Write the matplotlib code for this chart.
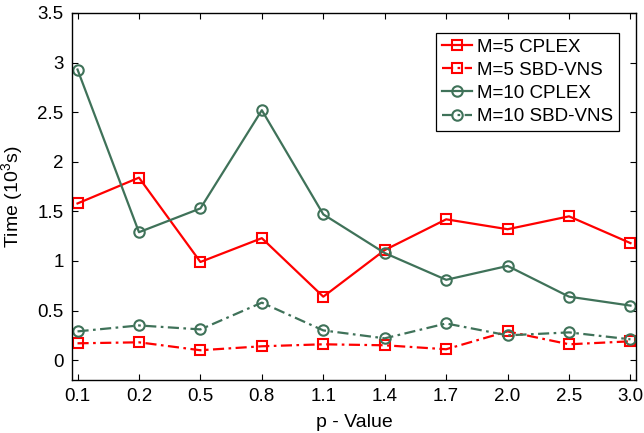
import matplotlib
matplotlib.use("Agg")
import matplotlib.pyplot as plt

plt.rcParams['font.family'] = ['Liberation Sans', 'DejaVu Sans']
plt.rcParams['mathtext.fontset'] = 'custom'
plt.rcParams['mathtext.rm'] = 'Liberation Sans'

categories = ["0.1", "0.2", "0.5", "0.8", "1.1", "1.4", "1.7", "2.0", "2.5", "3.0"]
m5_cplex = [1.58, 1.84, 0.99, 1.23, 0.64, 1.11, 1.42, 1.32, 1.45, 1.18]
m5_sbd = [0.17, 0.18, 0.10, 0.14, 0.16, 0.15, 0.11, 0.29, 0.16, 0.19]
m10_cplex = [2.93, 1.29, 1.53, 2.52, 1.47, 1.08, 0.81, 0.95, 0.64, 0.55]
m10_sbd = [0.29, 0.35, 0.31, 0.58, 0.30, 0.22, 0.37, 0.25, 0.28, 0.21]
yticks = [0, 0.5, 1, 1.5, 2, 2.5, 3, 3.5]
ytick_labels = ["0", "0.5", "1", "1.5", "2", "2.5", "3", "3.5"]

red = "#ff0000"
green = "#3f7259"

fig = plt.figure(figsize=(6.44, 4.33), dpi=100)
ax = fig.add_axes([0.1118, 0.1224, 0.8758, 0.8476])
x = list(range(len(categories)))

dashdot = (0, (5, 2, 1.2, 2))
ax.plot(x, m5_cplex, color=red, lw=1.6, marker='s', ms=7, mfc='none', mew=1.5, label="M=5 CPLEX")
ax.plot(x, m5_sbd, color=red, lw=1.6, ls=dashdot, marker='s', ms=7, mfc='none', mew=1.5, label="M=5 SBD-VNS")
ax.plot(x, m10_cplex, color=green, lw=1.6, marker='o', ms=7.5, mfc='none', mew=1.5, label="M=10 CPLEX")
ax.plot(x, m10_sbd, color=green, lw=1.6, ls=dashdot, marker='o', ms=7.5, mfc='none', mew=1.5, label="M=10 SBD-VNS")

ax.set_xlim(-0.09, 9.09)
ax.set_ylim(-0.2, 3.5)
ax.set_xticks(x)
ax.set_xticklabels(categories)
ax.set_yticks(yticks)
ax.set_yticklabels(ytick_labels)
ax.tick_params(direction='in', top=True, right=True, labelsize=13.5, length=4, width=0.8, pad=6)
for s in ax.spines.values():
    s.set_linewidth(1.0)

ax.set_xlabel("p - Value", fontsize=14, labelpad=6)
ax.set_ylabel("Time (10$^3$s)", fontsize=14, labelpad=8)

leg = ax.legend(loc='upper right', bbox_to_anchor=(619/644, 1 - 33/433), bbox_transform=fig.transFigure,
                fontsize=13.5, fancybox=False, framealpha=1, edgecolor='black',
                handlelength=1.6, handletextpad=0.3, borderpad=0.3, labelspacing=0.32, borderaxespad=0)
leg.get_frame().set_linewidth(0.9)

fig.savefig("out.png", dpi=100)
